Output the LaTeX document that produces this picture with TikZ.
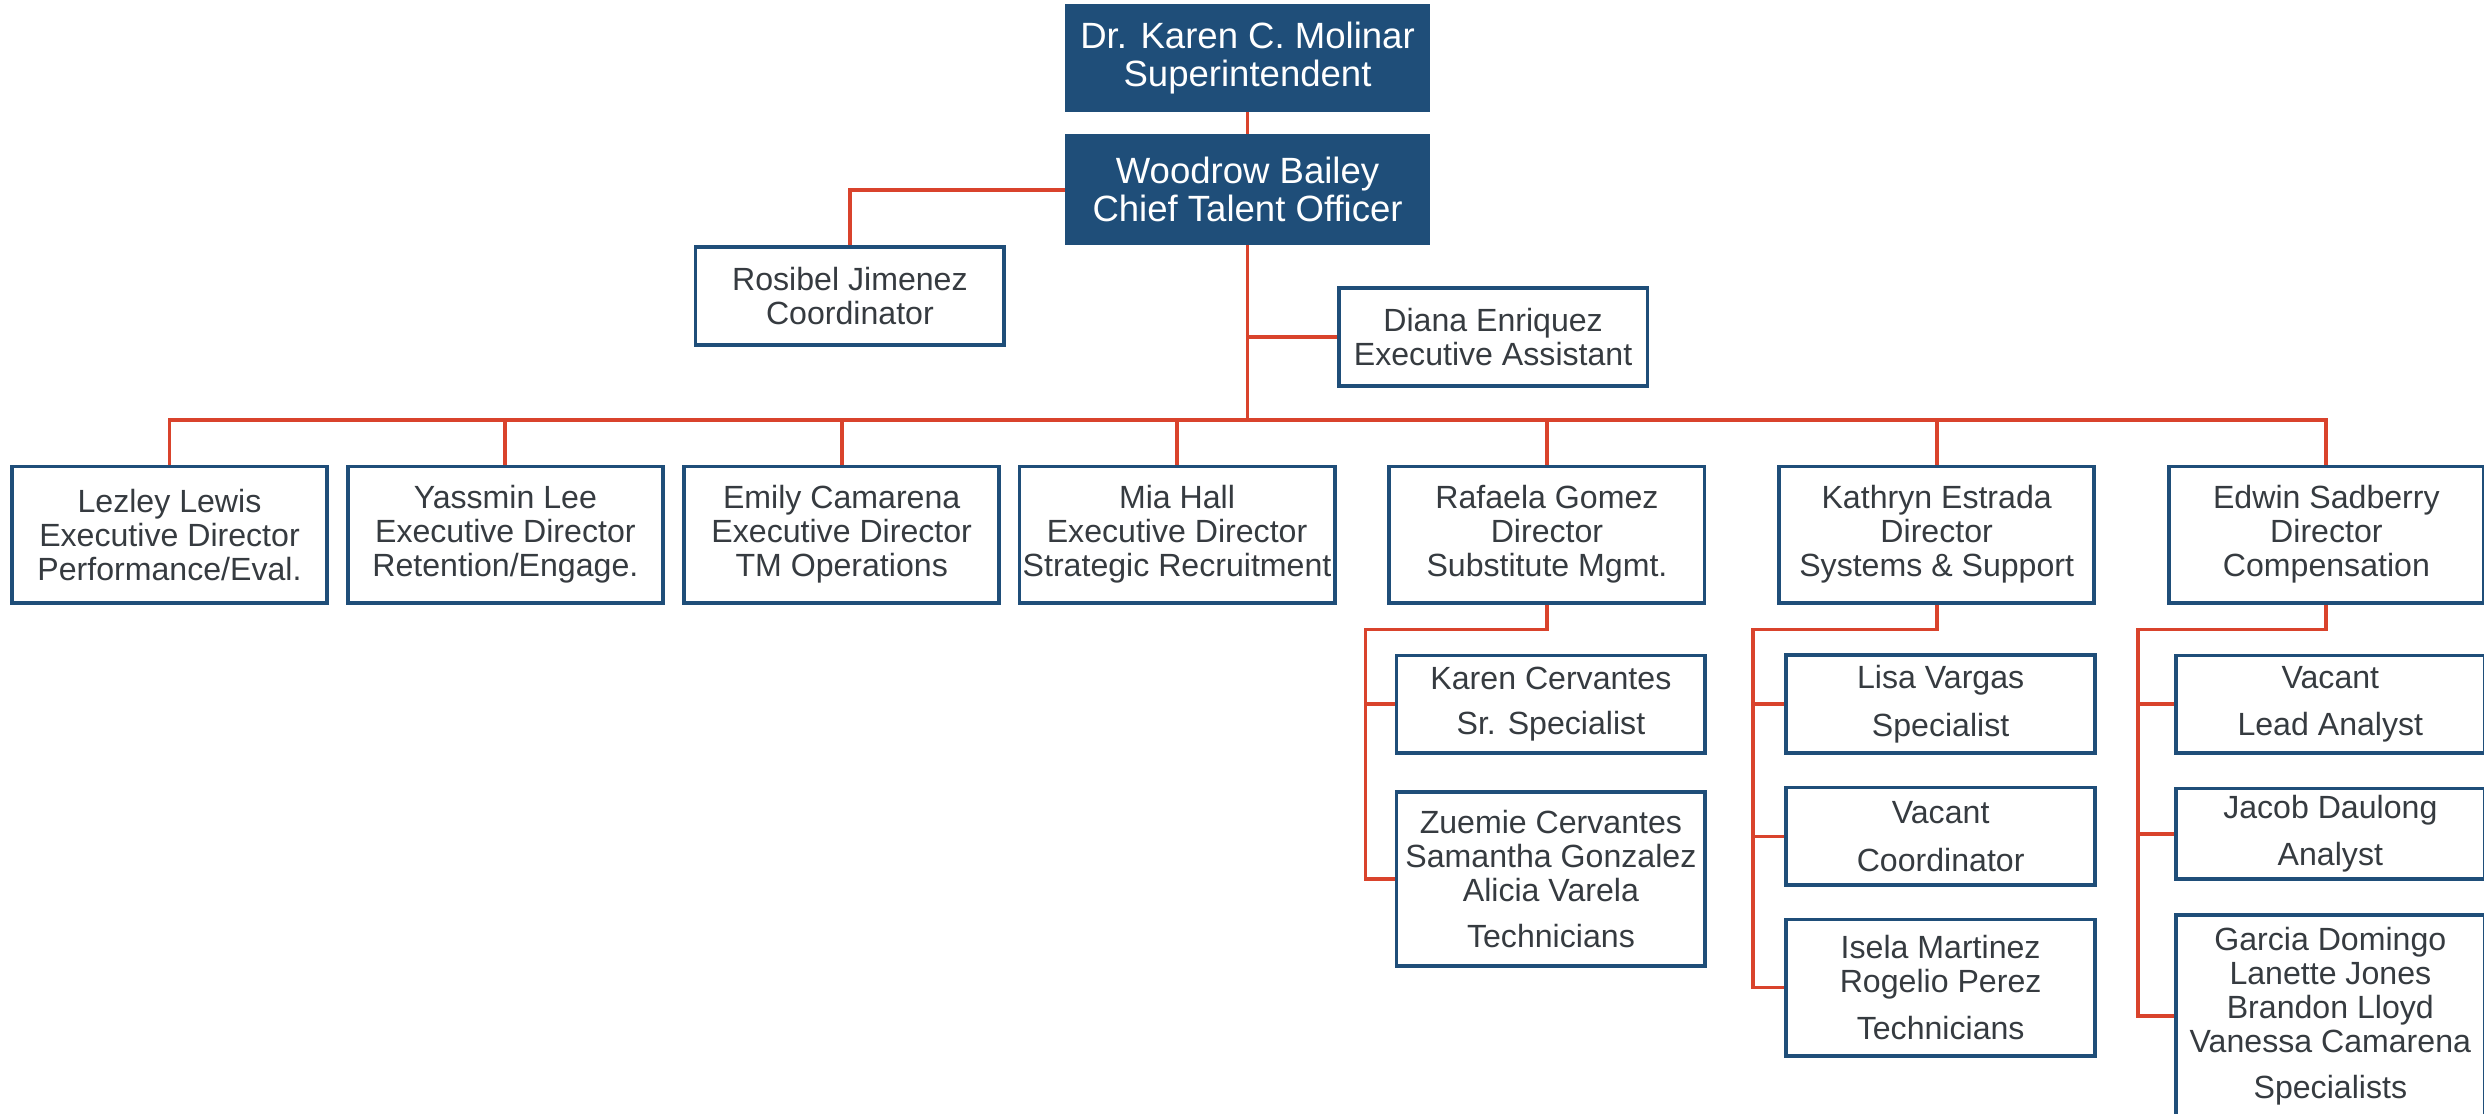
\documentclass[tikz,border=0pt]{standalone}
\usepackage{fontspec}
\setmainfont{Liberation Sans}
\usetikzlibrary{backgrounds}
\definecolor{boxblue}{HTML}{1F4E79}
\definecolor{linered}{HTML}{D9432C}
\definecolor{txt}{HTML}{363B40}
\begin{document}
\begin{tikzpicture}[x=0.75pt,y=-0.75pt,
  box/.style={draw=boxblue, line width=1.8pt, fill=white, text=txt, align=center, inner sep=0pt,
    font=\fontsize{15.2}{16.1}\selectfont},
  lvl/.style={box, minimum width=149.25pt, minimum height=64.5pt},
  sub/.style={box, minimum width=146.25pt},
  topbox/.style={fill=boxblue, draw=boxblue, text=white, align=center, inner sep=0pt,
    font=\fontsize{17.3}{18}\selectfont, minimum width=172.5pt},
  conn/.style={draw=linered, line width=1.8pt, line join=miter}]
\clip (0,0) rectangle (1568,703.2);
% top
\node[topbox, minimum height=50.25pt] (sup) at (787.5,36.6) {Dr. Karen C. Molinar\\Superintendent};
\node[topbox, minimum height=52.1pt] (cto) at (787.5,119.8) {Woodrow Bailey\\Chief Talent Officer};
\node[box, minimum width=146.25pt, minimum height=46.3pt] (ros) at (536.5,186.9) {Rosibel Jimenez\\Coordinator};
\node[box, minimum width=146.25pt, minimum height=46.3pt] (dia) at (942.5,212.6) {Diana Enriquez\\Executive Assistant};
% level
\node[lvl] (n1) at (107,337.5) {Lezley Lewis\\Executive Director\\Performance/Eval.};
\node[lvl] (n2) at (319,337.5) {Yassmin Lee\\Executive Director\\Retention/Engage.};
\node[lvl] (n3) at (531.3,337.5) {Emily Camarena\\Executive Director\\TM Operations};
\node[lvl] (n4) at (743,337.5) {Mia Hall\\Executive Director\\Strategic Recruitment};
\node[lvl] (n5) at (976.5,337.5) {Rafaela Gomez\\Director\\Substitute Mgmt.};
\node[lvl] (n6) at (1222.5,337.5) {Kathryn Estrada\\Director\\Systems \& Support};
\node[lvl] (n7) at (1468.5,337.5) {Edwin Sadberry\\Director\\Compensation};
% subs
\node[sub, minimum height=46.1pt] (kc) at (979,444.5) {Karen Cervantes\\[5.5pt]Sr. Specialist};
\node[sub, minimum height=82.5pt] (zc) at (979,555) {Zuemie Cervantes\\Samantha Gonzalez\\Alicia Varela\\[5.5pt]Technicians};
\node[sub, minimum height=46.2pt] (lv) at (1225,444.5) {Lisa Vargas\\[6.5pt]Specialist};
\node[sub, minimum height=46.3pt] (vc) at (1225,528) {Vacant\\[6.5pt]Coordinator};
\node[sub, minimum height=64.5pt] (im) at (1225,623.4) {Isela Martinez\\Rogelio Perez\\[6pt]Technicians};
\node[sub, minimum height=46.2pt] (va) at (1471,444.6) {Vacant\\[6.5pt]Lead Analyst};
\node[sub, minimum height=42.9pt] (jd) at (1471,526.3) {Jacob Daulong\\[6.5pt]Analyst};
\node[sub, minimum height=95.7pt] (gd) at (1471,641.3) {Garcia Domingo\\Lanette Jones\\Brandon Lloyd\\Vanessa Camarena\\[5.5pt]Specialists};
\coordinate (bus) at (787.5,265);
\coordinate (rb) at (862,397.3);
\coordinate (kb) at (1106.6,397.3);
\coordinate (eb) at (1349.6,397.3);
\begin{scope}[on background layer]
\fill[white] (0,0) rectangle (1568,703.2);
\draw[conn] (sup.south) -- (cto.north);
\draw[conn] (cto.west) -| (ros.north);
\draw[conn] (cto.south) -- (bus);
\draw[conn] (dia.west) -- (dia.west -| cto.south);
\draw[conn] (n1.north) -- (n1.north |- bus) -- (n7.north |- bus) -- (n7.north);
\foreach \n in {n2,n3,n4,n5,n6} \draw[conn] (\n.north) -- (\n.north |- bus);
\draw[conn] (n5.south) |- (rb) |- (zc.west);
\draw[conn] (kc.west) -- (kc.west -| rb);
\draw[conn] (n6.south) |- (kb) |- (im.west);
\draw[conn] (lv.west) -- (lv.west -| kb);
\draw[conn] (vc.west) -- (vc.west -| kb);
\draw[conn] (n7.south) |- (eb) |- (gd.west);
\draw[conn] (va.west) -- (va.west -| eb);
\draw[conn] (jd.west) -- (jd.west -| eb);
\end{scope}
\end{tikzpicture}
\end{document}
